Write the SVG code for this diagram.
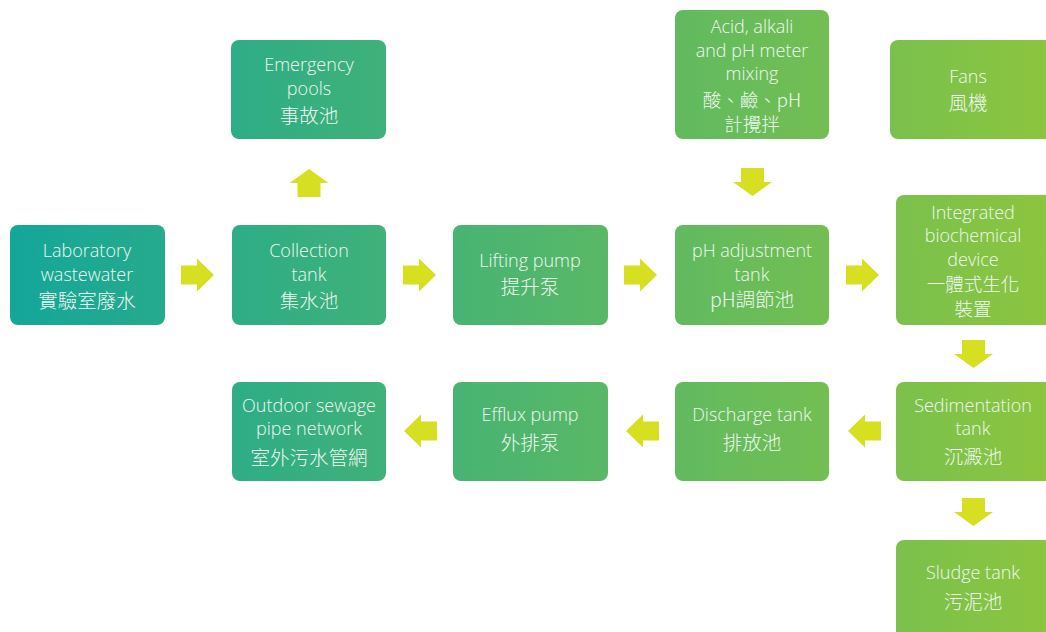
<svg xmlns="http://www.w3.org/2000/svg" width="1046" height="632" viewBox="0 0 1046 632">
<defs>
<linearGradient id="g" gradientUnits="userSpaceOnUse" x1="10" y1="0" x2="1046" y2="0">
<stop offset="0" stop-color="#14a69a"/>
<stop offset="1" stop-color="#8cc53f"/>
</linearGradient>
<path id="ar" d="M0,-9.5 H16 V-16.5 L33,0 L16,16.5 V9.5 H0 Z" fill="#d6e021"/>
<path id="dn" d="M-11.5,0 H11.5 V14 H19.5 L0,28 L-19.5,14 H-11.5 Z" fill="#d6e021"/>
</defs>
<style>
.b{fill:url(#g)}
text{font-family:"Open Sans","Noto Sans CJK TC",sans-serif;font-weight:300;font-size:18px;fill:#eef8f1;text-anchor:middle}
.c{font-family:"Noto Sans CJK TC","Noto Sans",sans-serif;font-size:19.5px;font-weight:300}
.s{font-size:18.5px}
</style>
<rect width="1046" height="632" fill="#fff"/>
<g id="connectors">
<use href="#ar" transform="translate(181,275)"/>
<use href="#ar" transform="translate(403,275)"/>
<use href="#ar" transform="translate(624,275)"/>
<use href="#ar" transform="translate(846,275)"/>
<use href="#ar" transform="translate(437,431) rotate(180)"/>
<use href="#ar" transform="translate(659,431) rotate(180)"/>
<use href="#ar" transform="translate(881,431) rotate(180)"/>
<use href="#dn" transform="translate(309,197) rotate(180)"/>
<use href="#dn" transform="translate(752.5,168)"/>
<use href="#dn" transform="translate(973.5,340)"/>
<use href="#dn" transform="translate(973.5,498)"/>
</g>
<g id="lab"><rect class="b" x="10" y="225" width="155" height="100" rx="8"/>
<text x="87" y="257">Laboratory</text><text x="87" y="281">wastewater</text><text class="c" x="87" y="308">實驗室廢水</text></g>
<g id="emergency"><rect class="b" x="231" y="40" width="155" height="99" rx="8"/>
<text x="309" y="71">Emergency</text><text x="309" y="95">pools</text><text class="c" x="309" y="123">事故池</text></g>
<g id="collection"><rect class="b" x="232" y="225" width="154" height="100" rx="8"/>
<text x="309" y="257">Collection</text><text x="309" y="281">tank</text><text class="c" x="309" y="308">集水池</text></g>
<g id="lifting"><rect class="b" x="453" y="225" width="155" height="100" rx="8"/>
<text x="530" y="267">Lifting pump</text><text class="c" x="530" y="294">提升泵</text></g>
<g id="ph"><rect class="b" x="675" y="225" width="154" height="100" rx="8"/>
<text x="752" y="257">pH adjustment</text><text x="752" y="281">tank</text><text class="c" x="752" y="307">pH調節池</text></g>
<g id="acid"><rect class="b" x="675" y="10" width="154" height="129" rx="8"/>
<text x="752" y="33">Acid, alkali</text><text x="752" y="57">and pH meter</text><text x="752" y="80">mixing</text><text class="c s" x="752" y="107">酸、鹼、pH</text><text class="c s" x="752" y="131">計攪拌</text></g>
<g id="fans"><rect class="b" x="890" y="40" width="164" height="99" rx="8"/>
<text x="968" y="83">Fans</text><text class="c" x="968" y="110">風機</text></g>
<g id="integrated"><rect class="b" x="896" y="195" width="160" height="130" rx="8"/>
<text x="973" y="219">Integrated</text><text x="973" y="242">biochemical</text><text x="973" y="266">device</text><text class="c s" x="973" y="291">一體式生化</text><text class="c s" x="973" y="316">裝置</text></g>
<g id="sedimentation"><rect class="b" x="896" y="382" width="160" height="99" rx="8"/>
<text x="973" y="412">Sedimentation</text><text x="973" y="435">tank</text><text class="c" x="973" y="464">沉澱池</text></g>
<g id="sludge"><rect class="b" x="896" y="540" width="160" height="100" rx="8"/>
<text x="973" y="579">Sludge tank</text><text class="c" x="973" y="609">污泥池</text></g>
<g id="discharge"><rect class="b" x="675" y="382" width="154" height="99" rx="8"/>
<text x="752" y="421">Discharge tank</text><text class="c" x="752" y="450">排放池</text></g>
<g id="efflux"><rect class="b" x="453" y="382" width="155" height="99" rx="8"/>
<text x="530" y="421">Efflux pump</text><text class="c" x="530" y="450">外排泵</text></g>
<g id="outdoor"><rect class="b" x="232" y="382" width="154" height="99" rx="8"/>
<text x="309" y="412">Outdoor sewage</text><text x="309" y="435">pipe network</text><text class="c" x="309" y="465">室外污水管網</text></g>
</svg>
